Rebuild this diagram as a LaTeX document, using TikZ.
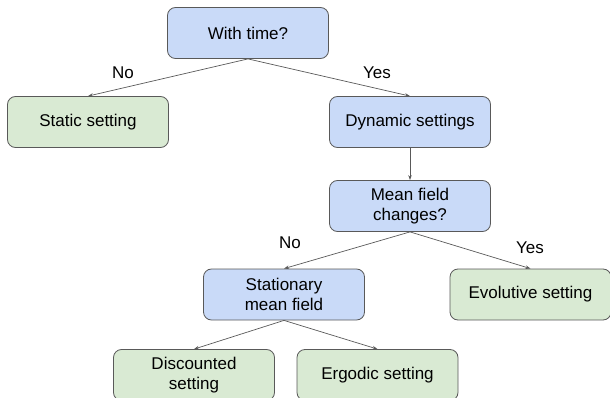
\documentclass[tikz,border=0pt]{standalone}
\usepackage{fontspec}
\setmainfont{Liberation Sans}
\usetikzlibrary{arrows.meta}
\definecolor{qblue}{HTML}{C9DAF8}
\definecolor{qgreen}{HTML}{D9EAD3}
\definecolor{qline}{HTML}{595959}
\begin{document}
\begin{tikzpicture}[x=1pt,y=-1pt,
  box/.style={draw=qline, line width=0.8pt, rounded corners=8pt, minimum width=161pt, minimum height=51pt, align=center, font=\fontsize{17}{19.5}\selectfont, inner sep=2pt},
  bluebox/.style={box, fill=qblue},
  greenbox/.style={box, fill=qgreen},
  conn/.style={draw=qline, line width=0.7pt, -{Stealth[length=5pt,width=3.5pt]}},
  lbl/.style={font=\fontsize{17}{19.5}\selectfont, inner sep=0pt}]
\useasboundingbox (0,0) rectangle (610,398);
\node[bluebox] (time) at (248,33) {With time?};
\node[greenbox] (static) at (88,122) {Static setting};
\node[bluebox] (dyn) at (410,122) {Dynamic settings};
\node[bluebox] (mf) at (410,206) {Mean field\\changes?};
\node[bluebox] (stat) at (284,294.5) {Stationary\\mean field};
\node[greenbox] (evo) at (530.5,294.5) {Evolutive setting};
\node[greenbox] (disc) at (194,375) {Discounted\\setting};
\node[greenbox] (erg) at (377.5,375) {Ergodic setting};
\draw[conn] (time.south) -- (static.north);
\draw[conn] (time.south) -- (dyn.north);
\draw[conn] (dyn.south) -- (mf.north);
\draw[conn] (mf.south) -- (stat.north);
\draw[conn] (mf.south) -- (evo.north);
\draw[conn] (stat.south) -- (disc.north);
\draw[conn] (stat.south) -- (erg.north);
\node[lbl] (no1) at (123,73) {No};
\node[lbl] (yes1) at (377,73) {Yes};
\node[lbl] (no2) at (290,243) {No};
\node[lbl] (yes2) at (530,248) {Yes};
\end{tikzpicture}
\end{document}
